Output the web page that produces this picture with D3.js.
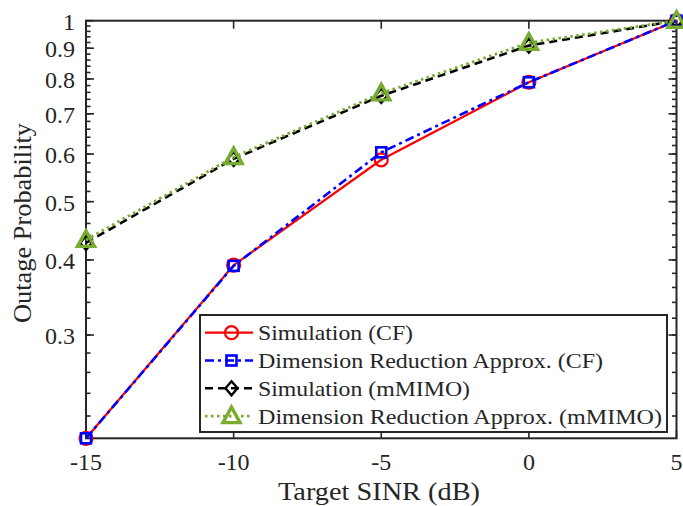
<!DOCTYPE html>
<html>
<head>
<meta charset="utf-8">
<script src="https://cdn.jsdelivr.net/npm/d3@7"></script>
<style>
  html, body { margin: 0; padding: 0; background: #fff; }
  text { font-family: "Liberation Serif", "DejaVu Serif", serif; fill: #262626; }
</style>
</head>
<body>
<div id="chart"></div>
<script>
// Chart data
const sinr = [-15, -10, -5, 0, 5];
const simCF = [0.202, 0.392, 0.587, 0.790, 1.0];
const approxCF = [0.202, 0.391, 0.604, 0.790, 1.0];
const simMIMO = [0.427, 0.589, 0.750, 0.909, 1.0];
const approxMIMO = [0.432, 0.593, 0.757, 0.919, 1.0];
const seriesNames = ["Simulation (CF)", "Dimension Reduction Approx. (CF)", "Simulation (mMIMO)", "Dimension Reduction Approx. (mMIMO)"];
const xTicks = [-15, -10, -5, 0, 5];
const yTicks = [0.3, 0.4, 0.5, 0.6, 0.7, 0.8, 0.9, 1];

const width = 683, height = 506;
const margin = {left: 86, right: 6.5, top: 20.7, bottom: 67.7};
const axisColor = "#262626";

const svg = d3.select("#chart").append("svg")
    .attr("width", width)
    .attr("height", height);

const x = d3.scaleLinear().domain([-15, 5]).range([margin.left, width - margin.right]);
const y = d3.scaleLog().domain([0.202, 1]).range([height - margin.bottom, margin.top]);

const x0 = x.range()[0], x1 = x.range()[1];
const y0 = y.range()[0], y1 = y.range()[1];

// minor ticks every 0.02 on the log axis
const minorTicks = d3.range(0.22, 1.0001, 0.02).map(v => +v.toFixed(2));

const axes = svg.append("g");
[[x0, 1], [x1, -1]].forEach(([xx, dir]) => {
    axes.selectAll(null).data(minorTicks).enter().append("line")
        .attr("x1", xx).attr("x2", xx + dir * 4.5)
        .attr("y1", d => y(d)).attr("y2", d => y(d))
        .attr("stroke", axisColor).attr("stroke-width", 1.6);
    axes.selectAll(null).data(yTicks).enter().append("line")
        .attr("x1", xx).attr("x2", xx + dir * 8)
        .attr("y1", d => y(d)).attr("y2", d => y(d))
        .attr("stroke", axisColor).attr("stroke-width", 1.6);
});
[[y0, -1], [y1, 1]].forEach(([yy, dir]) => {
    axes.selectAll(null).data(xTicks).enter().append("line")
        .attr("x1", d => x(d)).attr("x2", d => x(d))
        .attr("y1", yy).attr("y2", yy + dir * 8)
        .attr("stroke", axisColor).attr("stroke-width", 1.6);
});
axes.append("rect")
    .attr("x", x0).attr("y", y1)
    .attr("width", x1 - x0).attr("height", y0 - y1)
    .attr("fill", "none").attr("stroke", axisColor).attr("stroke-width", 2);

// tick labels
axes.selectAll(null).data(xTicks).enter().append("text")
    .attr("x", d => x(d)).attr("y", y0 + 32)
    .attr("text-anchor", "middle")
    .attr("font-size", 24)
    .text(d => d);
axes.selectAll(null).data(yTicks).enter().append("text")
    .attr("x", x0 - 11).attr("y", d => y(d) + 9)
    .attr("text-anchor", "end")
    .attr("font-size", 24)
    .text(d => d);

// axis titles
svg.append("text")
    .attr("x", 278).attr("y", 500)
    .attr("font-size", 25)
    .attr("textLength", 202).attr("lengthAdjust", "spacingAndGlyphs")
    .text("Target SINR (dB)");
svg.append("text")
    .attr("transform", "translate(31,323) rotate(-90)")
    .attr("font-size", 25)
    .attr("textLength", 200).attr("lengthAdjust", "spacingAndGlyphs")
    .text("Outage Probability");

const styles = [
    {values: simCF, color: "#ff0000", dash: null, width: 2.2, marker: "circle"},
    {values: approxCF, color: "#0000ff", dash: "9,4,3,4", width: 2.6, marker: "square"},
    {values: simMIMO, color: "#000000", dash: "8,5", width: 2.6, marker: "diamond"},
    {values: approxMIMO, color: "#77ac30", dash: "2.5,3.5", width: 2.8, marker: "triangle"}
];
const legendWidths = [155, 345, 212, 404];

const line = d3.line().x((d, i) => x(sinr[i])).y(d => y(d));

function drawMarker(g, type, cx, cy, color) {
    if (type === "circle") {
        g.append("circle").attr("cx", cx).attr("cy", cy).attr("r", 6.5)
            .attr("fill", "none").attr("stroke", color).attr("stroke-width", 2.2);
    } else if (type === "square") {
        g.append("rect").attr("x", cx - 5).attr("y", cy - 5).attr("width", 10).attr("height", 10)
            .attr("fill", "none").attr("stroke", color).attr("stroke-width", 2.6);
    } else if (type === "diamond") {
        g.append("path").attr("d", `M${cx},${cy - 7}L${cx + 6},${cy}L${cx},${cy + 7}L${cx - 6},${cy}Z`)
            .attr("fill", "none").attr("stroke", color).attr("stroke-width", 2.4);
    } else {
        g.append("path").attr("d", `M${cx},${cy - 9}L${cx + 8.5},${cy + 6.5}L${cx - 8.5},${cy + 6.5}Z`)
            .attr("fill", "none").attr("stroke", color).attr("stroke-width", 3.4)
            .attr("stroke-linejoin", "miter");
    }
}

const plot = svg.append("g");
styles.forEach(s => {
    plot.append("path")
        .attr("d", line(s.values))
        .attr("fill", "none")
        .attr("stroke", s.color)
        .attr("stroke-width", s.width)
        .attr("stroke-dasharray", s.dash);
    s.values.forEach((v, i) => drawMarker(plot, s.marker, x(sinr[i]), y(v), s.color));
});

// legend
const lg = svg.append("g");
const lx = 200, ly = 315, lw = 467, lh = 117;
lg.append("rect").attr("x", lx).attr("y", ly).attr("width", lw).attr("height", lh)
    .attr("fill", "#fff").attr("stroke", axisColor).attr("stroke-width", 2);
styles.forEach((s, i) => {
    const yy = ly + 17.7 + i * 27.8;
    lg.append("line")
        .attr("x1", lx + 5).attr("x2", lx + 53)
        .attr("y1", yy).attr("y2", yy)
        .attr("stroke", s.color).attr("stroke-width", s.width)
        .attr("stroke-dasharray", s.dash);
    drawMarker(lg, s.marker, lx + 31.5, yy, s.color);
    lg.append("text")
        .attr("x", lx + 58).attr("y", yy + 7.5)
        .attr("font-size", 22)
        .attr("textLength", legendWidths[i]).attr("lengthAdjust", "spacingAndGlyphs")
        .text(seriesNames[i]);
});
</script>
</body>
</html>
